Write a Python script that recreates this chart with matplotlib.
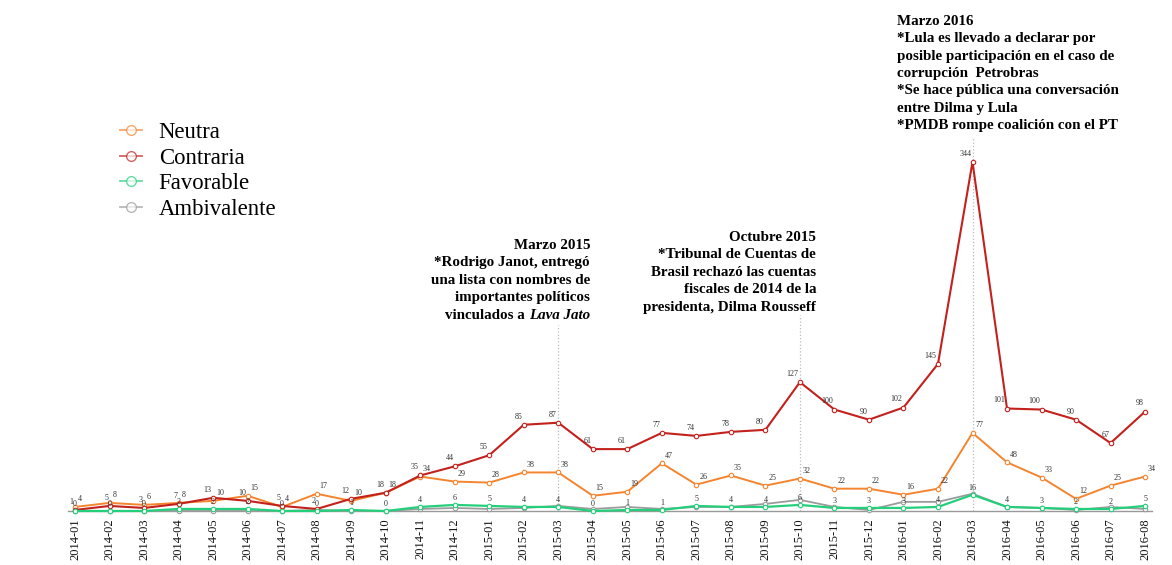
import matplotlib.pyplot as plt
from matplotlib.lines import Line2D

plt.rcParams['font.family'] = ['Liberation Serif', 'DejaVu Serif']

meses = ['2014-01', '2014-02', '2014-03', '2014-04', '2014-05', '2014-06', '2014-07', '2014-08',
         '2014-09', '2014-10', '2014-11', '2014-12', '2015-01', '2015-02', '2015-03', '2015-04',
         '2015-05', '2015-06', '2015-07', '2015-08', '2015-09', '2015-10', '2015-11', '2015-12',
         '2016-01', '2016-02', '2016-03', '2016-04', '2016-05', '2016-06', '2016-07', '2016-08']
neutra = [4, 8, 6, 8, 10, 15, 4, 17, 10, 18, 34, 29, 28, 38, 38, 15,
          19, 47, 26, 35, 25, 32, 22, 22, 16, 22, 77, 48, 33, 12, 25, 34]
contraria = [1, 5, 3, 7, 13, 10, 5, 2, 12, 18, 35, 44, 55, 85, 87, 61,
             61, 77, 74, 78, 80, 127, 100, 90, 102, 145, 344, 101, 100, 90, 67, 98]
favorable = [0, 0, 0, 2, 2, 2, 0, 0, 1, 0, 4, 6, 5, 4, 4, 0,
             1, 1, 5, 4, 4, 6, 3, 3, 3, 4, 16, 4, 3, 2, 2, 5]
ambivalente = [0, 0, 0, 0, 0, 0, 0, 1, 0, 0, 2, 3, 2, 3, 5, 2,
               4, 2, 4, 4, 7, 11, 4, 1, 9, 9, 17, 4, 3, 1, 4, 2]

c_neutra = '#F5842F'
c_contraria = '#C2211C'
c_favorable = '#24CF7B'
c_ambivalente = '#9B9B9B'

fig = plt.figure(figsize=(11.72, 5.65), dpi=100)
# axes placed so that 0 sits at y=511px and one unit ~1.0145px
ax = fig.add_axes([68.1 / 1172, 54 / 565, 1083.9 / 1172, 507.3 / 565])
x = list(range(len(meses)))

def serie(vals, color, lw):
    ax.plot(x, vals, color=color, lw=lw, marker='o', ms=3.2, mfc='white',
            mec=color, mew=0.8, clip_on=False, zorder=3)

serie(ambivalente, c_ambivalente, 1.3)
serie(neutra, c_neutra, 1.4)
serie(contraria, c_contraria, 1.5)
serie(favorable, c_favorable, 1.6)

lab = dict(fontsize=5.8, color='#333333')
for i in x:
    ax.annotate(str(contraria[i]), (i, contraria[i]), xytext=(-1, 3), textcoords='offset points',
                ha='right', va='bottom', **lab)
    ax.annotate(str(neutra[i]), (i, neutra[i]), xytext=(2, 2.5), textcoords='offset points',
                ha='left', va='bottom', **lab)
    ax.annotate(str(favorable[i]), (i, favorable[i]), xytext=(0, 2), textcoords='offset points',
                ha='center', va='bottom', **lab)

# lineas de eventos
ax.vlines([14, 21, 26], 0, [183, 193, 368], colors='#BBBBBB', linestyles=':', lw=0.9,
          clip_on=False, zorder=1)

bold = dict(fontsize=10.8, fontweight='bold', color='black', linespacing=1.44)
t1 = ax.text(14.92, 268, "Marzo 2015\n*Rodrigo Janot, entregó\nuna lista con nombres de\nimportantes políticos",
             ha='right', va='top', multialignment='right', **bold)
lj = ax.annotate("Lava Jato", xy=(1, 0), xycoords=t1, xytext=(0, -10.6), textcoords='offset points',
                 ha='right', va='baseline', style='italic', **bold)
ax.annotate("vinculados a", xy=(0, 0), xycoords=lj, xytext=(-3, 0), textcoords='offset points',
            ha='right', va='bottom', **bold)

ax.text(21.47, 276, "Octubre 2015\n*Tribunal de Cuentas de\nBrasil rechazó las cuentas\nfiscales de 2014 de la\npresidenta, Dilma Rousseff",
        ha='right', va='top', multialignment='right', **bold)

ax.text(23.81, 489, "Marzo 2016\n*Lula es llevado a declarar por\nposible participación en el caso de\ncorrupción  Petrobras\n*Se hace pública una conversación\nentre Dilma y Lula\n*PMDB rompe coalición con el PT",
        ha='left', va='top', multialignment='left', **bold)

ax.set_xlim(-0.2, 31.2)
ax.set_ylim(0, 500)
ax.set_xticks(x)
ax.set_xticklabels(meses, rotation=90, fontsize=9)
ax.tick_params(axis='x', length=0, pad=5, colors='#111111')
ax.set_yticks([])
for s in ['left', 'top', 'right']:
    ax.spines[s].set_visible(False)
ax.spines['bottom'].set_color('#999999')
ax.spines['bottom'].set_linewidth(1)

handles = [Line2D([], [], color=c, lw=1.3, marker='o', ms=7, mfc='white', mec=c, alpha=0.7)
           for c in [c_neutra, c_contraria, c_favorable, c_ambivalente]]
fig.legend(handles, ['Neutra', 'Contraria', 'Favorable', 'Ambivalente'], loc='upper left',
           bbox_to_anchor=(120 / 1172, 1 - 122 / 565), frameon=False, fontsize=16.4,
           handlelength=0.95, handletextpad=0.75, labelspacing=0.2, borderpad=0, borderaxespad=0)

plt.savefig('out.png', dpi=100)
